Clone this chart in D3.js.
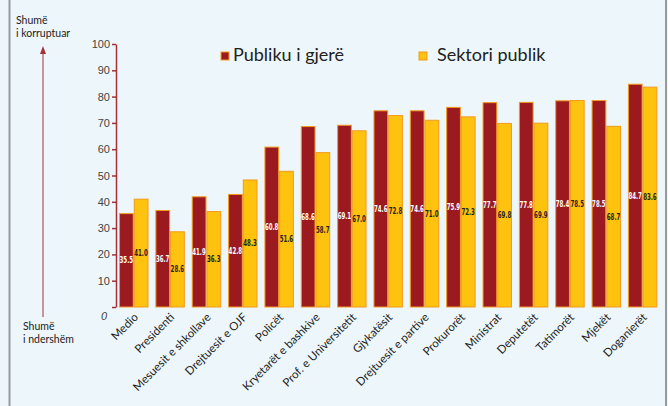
<!DOCTYPE html>
<html>
<head>
<meta charset="utf-8">
<script src="https://cdn.jsdelivr.net/npm/d3@7"></script>
<style>
  body { margin: 0; background: #edf7fb; }
  svg { display: block; }
</style>
</head>
<body>
<div id="chart"></div>
<script>
// data
const categories = ["Medio", "Presidenti", "Mesuesit e shkollave", "Drejtuesit e OJF", "Policët",
  "Kryetarët e bashkive", "Prof. e Universitetit", "Gjykatësit", "Drejtuesit e partive",
  "Prokurorët", "Ministrat", "Deputetët", "Tatimorët", "Mjekët", "Doganierët"];
const publiku = [35.5, 36.7, 41.9, 42.8, 60.8, 68.6, 69.1, 74.6, 74.6, 75.9, 77.7, 77.8, 78.4, 78.5, 84.7];
const sektori = [41.0, 28.6, 36.3, 48.3, 51.6, 58.7, 67.0, 72.8, 71.0, 72.3, 69.8, 69.9, 78.5, 68.7, 83.6];
const seriesNames = ["Publiku i gjerë", "Sektori publik"];
const yTicks = [0, 10, 20, 30, 40, 50, 60, 70, 80, 90, 100];

const w = 668, h = 406;
const red = "#9a1a20", yellow = "#ffc20f", edge = "#f39a1e", axisCol = "#a3313a";

const svg = d3.select("#chart").append("svg")
  .attr("width", w).attr("height", h);

svg.append("rect").attr("width", w).attr("height", h).attr("fill", "#edf7fb");
// frame lines
svg.append("line").attr("x1", 9.5).attr("x2", 9.5).attr("y1", 0).attr("y2", h)
  .attr("stroke", "#9a9a9a").attr("stroke-width", 2);
svg.append("line").attr("x1", 666).attr("x2", 666).attr("y1", 0).attr("y2", h)
  .attr("stroke", "#9a9a9a").attr("stroke-width", 2);

// title, mostly above the visible area (only descenders show)
svg.append("text").attr("x", 340).attr("y", -3).attr("text-anchor", "middle")
  .attr("font-family", "Lato").attr("font-size", 17).attr("fill", "#1b5fae")
  .text("Perceptimi i korrupsionit nga publiku dhe sektori publik");

const x = d3.scaleBand().domain(categories).range([115.4, 661]).paddingInner(0.19).paddingOuter(0.1);
const xs = d3.scaleBand().domain([0, 1]).range([0, x.bandwidth()]);
const y = d3.scaleLinear().domain([0, 100]).range([307, 44]);

// y axis
const yAxis = d3.axisLeft(y).tickValues(yTicks).tickSize(4).tickSizeOuter(0);
const ga = svg.append("g").attr("transform", "translate(116,0)").call(yAxis);
ga.select(".domain").attr("stroke", axisCol).attr("stroke-width", 1.5);
ga.selectAll(".tick line").attr("stroke", axisCol).attr("stroke-width", 1.5);
ga.selectAll(".tick text").attr("fill", "#444").attr("font-family", "Liberation Sans")
  .attr("font-size", 11).attr("x", -6);
ga.selectAll(".tick text").filter(d => d === 0)
  .attr("dy", "1.1em").attr("x", -9).attr("font-style", "italic");

// bars
const rows = categories.map((c, i) => ({ c, v: [publiku[i], sektori[i]] }));
const grp = svg.append("g").selectAll("g").data(rows).join("g")
  .attr("transform", d => `translate(${x(d.c)},0)`);

grp.selectAll("rect").data(d => d.v).join("rect")
  .attr("x", (d, j) => xs(j) + 0.5)
  .attr("y", d => y(d))
  .attr("width", xs.bandwidth() - 1)
  .attr("height", d => y(0) - y(d))
  .attr("fill", (d, j) => j === 0 ? red : yellow)
  .attr("stroke", edge).attr("stroke-width", 1);

grp.selectAll("text.val").data(d => d.v).join("text")
  .attr("class", "val")
  .attr("x", (d, j) => xs(j) + 0.5)
  .attr("y", d => (y(d) + y(0)) / 2 + 3)
  .attr("font-family", "DejaVu Sans Condensed").attr("font-size", 9).attr("font-weight", "bold")
  .attr("textLength", 13.5).attr("lengthAdjust", "spacingAndGlyphs")
  .attr("fill", (d, j) => j === 0 ? "#fff" : "#222")
  .text(d => d.toFixed(1));

// category labels
svg.append("g").selectAll("text").data(categories).join("text")
  .attr("transform", d => `translate(${x(d) + x.bandwidth() / 2 + 5},318) rotate(-45)`)
  .attr("text-anchor", "end")
  .attr("font-family", "Lato").attr("font-size", 11.5).attr("fill", "#222")
  .text(d => d);

// legend
const legX = [221, 419];
const leg = svg.append("g").selectAll("g").data(seriesNames).join("g")
  .attr("transform", (d, i) => `translate(${legX[i]},52)`);
leg.append("rect").attr("width", 8).attr("height", 8)
  .attr("fill", (d, i) => i === 0 ? red : yellow).attr("stroke", edge);
leg.append("text").attr("x", (d, i) => i === 0 ? 12 : 18).attr("y", 9)
  .attr("font-family", "Lato").attr("font-size", 18).attr("fill", "#222")
  .text(d => d);

// left annotation with arrow
const note = svg.append("g").attr("font-family", "Lato").attr("font-size", 10.5).attr("fill", "#222");
note.append("text").attr("x", 16).attr("y", 24).text("Shumë");
note.append("text").attr("x", 16).attr("y", 37).text("i korruptuar");
note.append("text").attr("x", 23).attr("y", 330).text("Shumë");
note.append("text").attr("x", 23).attr("y", 343).text("i ndershëm");
svg.append("line").attr("x1", 43).attr("x2", 43).attr("y1", 52).attr("y2", 317)
  .attr("stroke", axisCol).attr("stroke-width", 1);
svg.append("path").attr("d", "M43,46 L40,54 L46,54 Z").attr("fill", axisCol);
</script>
</body>
</html>
